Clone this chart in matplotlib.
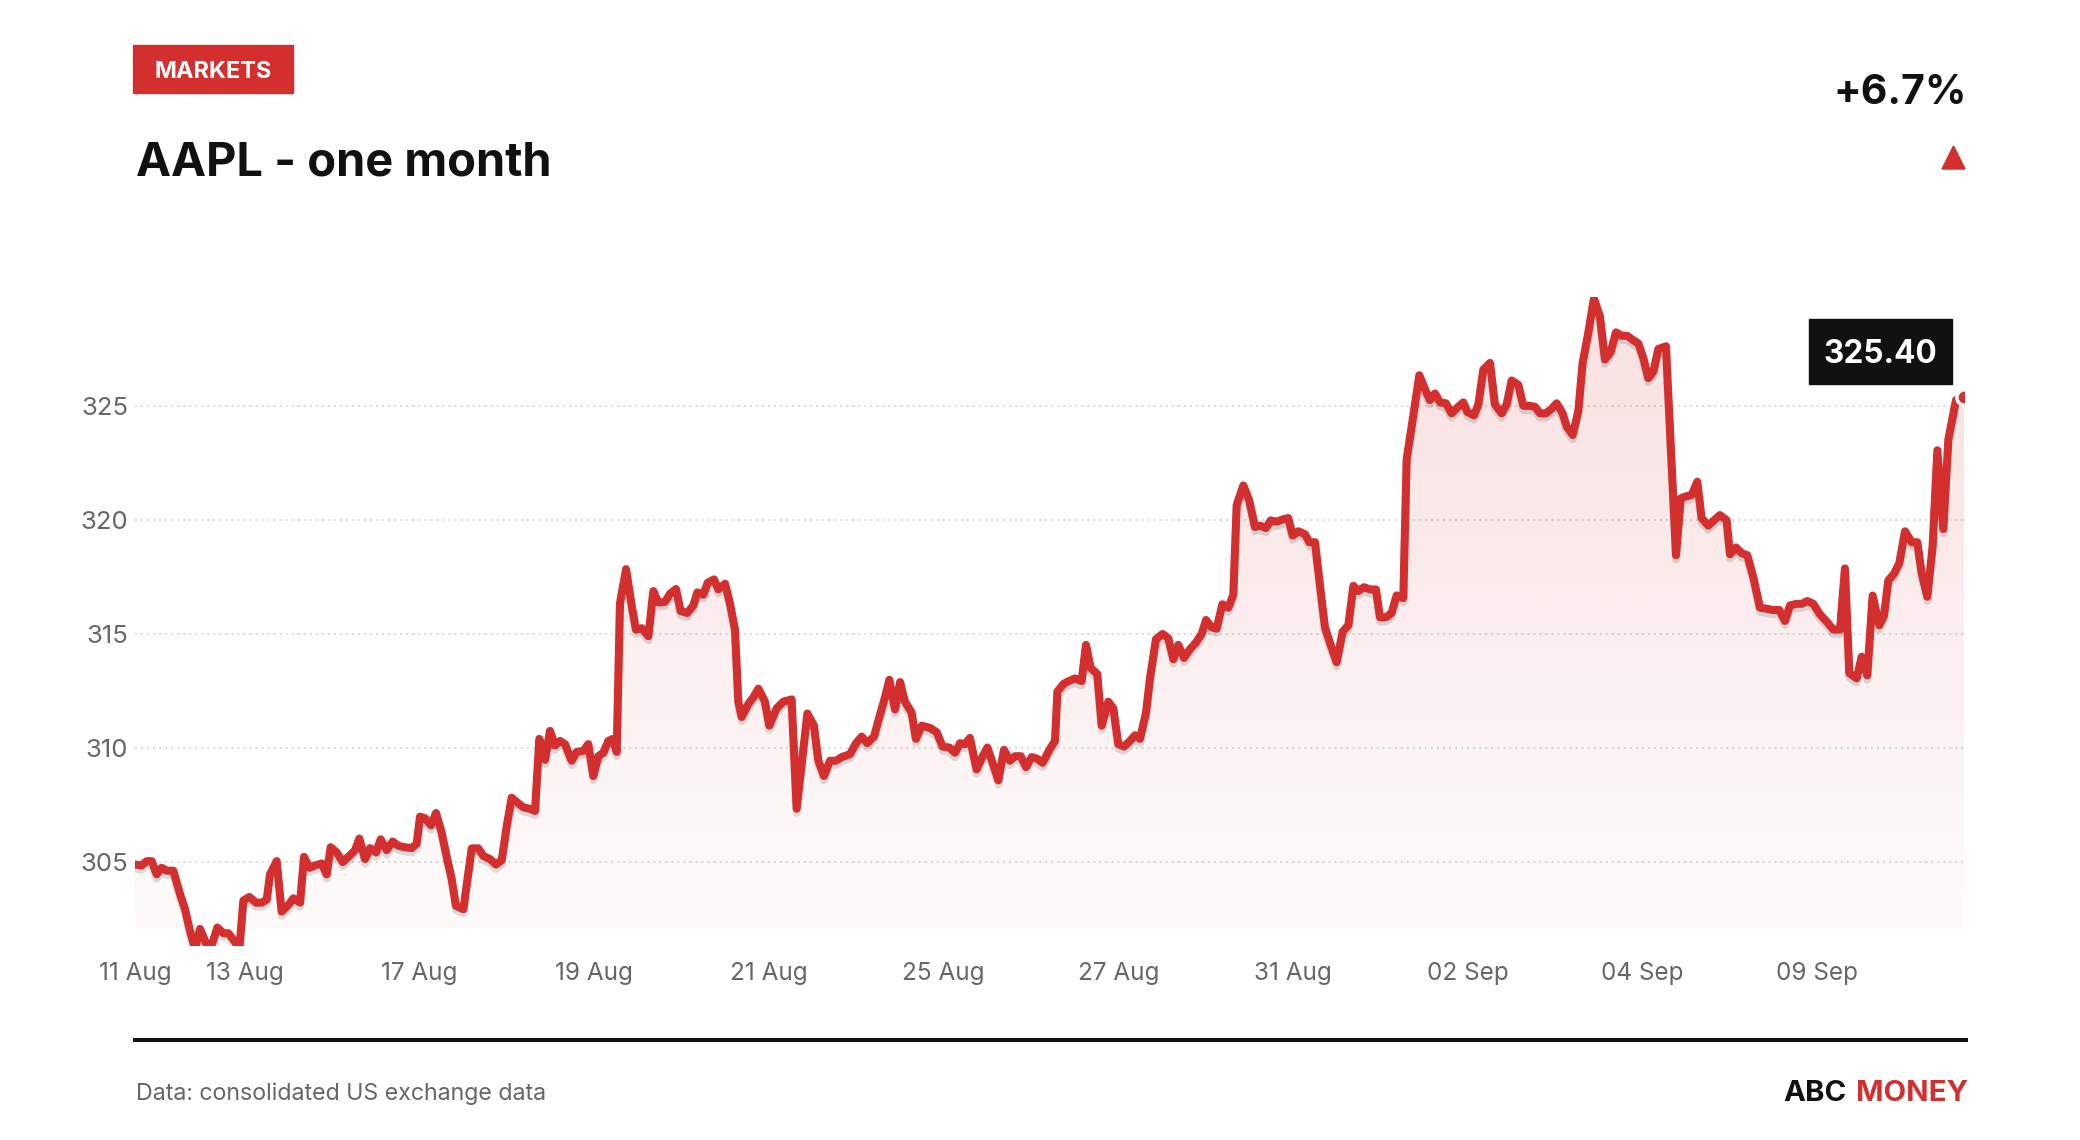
import numpy as np
import matplotlib
matplotlib.use('Agg')
import matplotlib.pyplot as plt
import matplotlib.patheffects as pe
from matplotlib.patches import Rectangle, Polygon
from matplotlib.lines import Line2D
from matplotlib.colors import to_rgb

plt.rcParams['font.family'] = ['Inter', 'DejaVu Sans']

RED = '#d32f2f'
GRAY = '#666666'

# intraday samples, x = trading-day position (13 Aug = 2, 17 Aug ~ 4, ...)
t_day = [
    0.749, 0.825, 0.882, 0.939, 0.996, 1.052, 1.109, 1.185, 1.261, 1.318,
    1.375, 1.432, 1.488, 1.557, 1.621, 1.686, 1.754, 1.811, 1.886, 1.936,
    1.981, 2.049, 2.125, 2.190, 2.247, 2.284, 2.360, 2.417, 2.493, 2.550,
    2.626, 2.671, 2.732, 2.796, 2.872, 2.929, 2.974, 3.043, 3.111, 3.187,
    3.251, 3.300, 3.365, 3.422, 3.490, 3.543, 3.611, 3.679, 3.744, 3.820,
    3.896, 3.952, 3.990, 4.047, 4.115, 4.172, 4.237, 4.294,
    4.350, 4.399, 4.483, 4.578, 4.653, 4.710, 4.786, 4.854, 4.919, 4.976,
    5.032, 5.108, 5.165, 5.233, 5.298, 5.347, 5.412, 5.468, 5.525, 5.582,
    5.639, 5.715, 5.772, 5.847, 5.904, 5.961, 6.018, 6.075, 6.132, 6.181,
    6.227, 6.264, 6.333, 6.397, 6.446, 6.511, 6.587, 6.643, 6.700, 6.776,
    6.833, 6.901, 6.954, 7.030, 7.098, 7.144, 7.212, 7.261, 7.333, 7.383,
    7.459, 7.515, 7.572, 7.610, 7.648, 7.724, 7.781, 7.838,
    7.913, 7.962, 8.046, 8.122, 8.216, 8.273, 8.395, 8.470, 8.520, 8.584,
    8.652, 8.721, 8.785, 8.880, 8.948, 9.013, 9.077, 9.153, 9.221, 9.278,
    9.327, 9.392, 9.449, 9.505, 9.581, 9.630, 9.695, 9.790, 9.866, 9.934,
    10.010, 10.074, 10.131, 10.188, 10.244, 10.320, 10.389, 10.442, 10.502, 10.567,
    10.631, 10.699, 10.756, 10.821, 10.882, 10.946, 11.003, 11.071, 11.147, 11.211,
    11.238, 11.306,
    11.344, 11.438, 11.514, 11.563, 11.617, 11.692, 11.742, 11.817, 11.874, 11.931,
    11.996, 12.064, 12.121, 12.178, 12.246, 12.291, 12.359, 12.435, 12.500, 12.557,
    12.613, 12.678, 12.746, 12.814, 12.879, 12.928, 12.992, 13.049, 13.114, 13.182,
    13.239, 13.277, 13.353, 13.421, 13.485, 13.542, 13.610, 13.664, 13.732, 13.800,
    13.864, 13.914, 13.978, 14.054, 14.103, 14.168, 14.225, 14.281, 14.346, 14.414,
    14.482, 14.547, 14.604, 14.660, 14.725, 14.793, 14.861,
    14.907, 14.975, 15.039, 15.096, 15.172, 15.210, 15.267, 15.354, 15.418, 15.475,
    15.532, 15.589, 15.657, 15.722, 15.786, 15.854, 15.900, 15.976, 16.025, 16.082,
    16.158, 16.214, 16.290, 16.347, 16.404, 16.480, 16.537, 16.605, 16.669, 16.726,
    16.794, 16.859, 16.916, 16.984, 17.029, 17.098, 17.162, 17.211, 17.276, 17.340,
    17.409, 17.465, 17.530, 17.590, 17.655, 17.719, 17.788, 17.844, 17.901, 17.958,
    18.015, 18.072, 18.159, 18.273, 18.326, 18.386,
    18.451, 18.515, 18.564, 18.640, 18.705, 18.773, 18.849, 18.887, 18.955, 19.019,
    19.084, 19.152, 19.228, 19.296, 19.372, 19.448, 19.512, 19.569, 19.645, 19.702,
    19.766, 19.834, 19.910, 19.986, 20.062, 20.138, 20.194, 20.244, 20.327, 20.384,
    20.448, 20.509, 20.585, 20.638, 20.687, 20.752, 20.812, 20.877, 20.953, 21.017,
    21.066, 21.131, 21.191, 21.245, 21.313, 21.370, 21.457, 21.548,
]

price = [
    304.89, 304.85, 305.04, 305.04, 304.46, 304.75, 304.62, 304.62, 303.60, 302.93,
    301.97, 301.20, 302.07, 301.44, 301.36, 302.13, 301.88, 301.88, 301.50, 301.20,
    303.31, 303.47, 303.22, 303.22, 303.35, 304.46, 305.04, 302.83, 303.12, 303.41,
    303.22, 305.23, 304.75, 304.85, 304.94, 304.46, 305.65, 305.42, 305.00, 305.27,
    305.52, 306.03, 305.13, 305.61, 305.42, 306.00, 305.52, 305.90, 305.71, 305.65,
    305.61, 305.80, 306.99, 306.92, 306.61, 307.15, 306.28, 305.23,
    304.27, 303.08, 302.93, 305.60, 305.60, 305.27, 305.13, 304.89, 305.08, 306.57,
    307.82, 307.57, 307.40, 307.34, 307.24, 310.40, 309.48, 310.75, 310.11, 310.31,
    310.17, 309.44, 309.83, 309.87, 310.17, 308.77, 309.64, 309.79, 310.31, 310.40,
    309.83, 316.34, 317.84, 316.25, 315.19, 315.25, 314.90, 316.88, 316.38, 316.40,
    316.76, 316.97, 316.00, 315.92, 316.25, 316.82, 316.72, 317.24, 317.39, 316.95,
    317.20, 316.34, 315.19, 312.03, 311.36, 311.93, 312.22, 312.60,
    312.03, 310.98, 311.74, 312.03, 312.13, 307.34, 311.51, 310.98, 309.44, 308.77,
    309.44, 309.44, 309.60, 309.73, 310.21, 310.50, 310.21, 310.50, 311.46, 312.22,
    312.99, 311.69, 312.89, 312.03, 311.55, 310.40, 310.98, 310.88, 310.69, 310.06,
    310.02, 309.79, 310.21, 310.17, 310.44, 309.06, 309.64, 310.02, 309.35, 308.58,
    309.92, 309.44, 309.64, 309.64, 309.16, 309.60, 309.54, 309.35, 309.92, 310.31,
    312.47, 312.80,
    312.89, 313.05, 312.93, 314.52, 313.51, 313.24, 310.98, 312.03, 311.74, 310.17,
    310.06, 310.31, 310.56, 310.40, 311.55, 313.05, 314.77, 315.00, 314.81, 313.89,
    314.52, 313.95, 314.33, 314.62, 315.00, 315.61, 315.29, 315.23, 316.30, 316.15,
    316.72, 320.65, 321.51, 320.84, 319.69, 319.75, 319.64, 319.98, 319.92, 320.02,
    320.08, 319.31, 319.50, 319.37, 319.02, 319.02, 317.11, 315.29, 314.52, 313.76,
    315.10, 315.38, 317.11, 316.88, 317.05, 316.95, 316.95,
    315.73, 315.73, 315.92, 316.69, 316.57, 322.66, 324.10, 326.34, 325.73, 325.25,
    325.54, 325.15, 325.11, 324.67, 324.92, 325.15, 324.73, 324.58, 325.06, 326.59,
    326.88, 325.06, 324.67, 325.06, 326.11, 325.92, 325.00, 325.00, 324.96, 324.67,
    324.67, 324.87, 325.11, 324.67, 324.10, 323.72, 324.77, 326.88, 328.22, 329.71,
    328.89, 327.03, 327.36, 328.22, 328.07, 328.07, 327.87, 327.74, 327.11, 326.21,
    326.50, 327.49, 327.61, 318.45, 320.94, 321.03,
    321.09, 321.67, 320.08, 319.75, 319.98, 320.21, 319.98, 318.49, 318.79, 318.54,
    318.45, 317.49, 316.15, 316.11, 316.05, 316.05, 315.57, 316.25, 316.32, 316.32,
    316.44, 316.32, 315.86, 315.54, 315.19, 315.19, 317.87, 313.28, 313.05, 314.00,
    313.18, 316.68, 315.38, 315.80, 317.34, 317.64, 318.10, 319.50, 319.02, 319.02,
    317.68, 316.63, 318.83, 323.05, 319.60, 323.53, 325.25, 325.40,
]

tick_days = [2.0, 3.986, 5.972, 7.958, 9.944, 11.93, 13.916, 15.902, 17.888, 19.874]
tick_labels = ['11 Aug', '13 Aug', '17 Aug', '19 Aug', '21 Aug', '25 Aug',
               '27 Aug', '31 Aug', '02 Sep', '04 Sep', '09 Sep']
y_ticks = [305, 310, 315, 320, 325]
y_min, y_max = 301.32, 329.77
fill_base = 302.1

W, H = 2080, 1140


def fx(x):
    return x / W


def fy(y):
    return 1 - y / H


def main():
    fig = plt.figure(figsize=(W / 100, H / 100), dpi=100)
    fig.patch.set_facecolor('white')
    ax = fig.add_axes([fx(135), fy(946), (1964 - 135) / W, (946 - 297) / H])

    # gradient fill under the line
    grad = np.zeros((256, 1, 4))
    grad[..., :3] = to_rgb(RED)
    grad[:, 0, 3] = np.linspace(0.15, 0.02, 256)
    im = ax.imshow(grad, extent=[t_day[0], t_day[-1], fill_base, y_max], aspect='auto',
                   origin='upper', interpolation='bilinear', zorder=1)
    poly = ax.fill_between(t_day, price, fill_base, facecolor='none', edgecolor='none')
    im.set_clip_path(poly.get_paths()[0], transform=ax.transData)

    ax.plot(t_day, price, color=RED, lw=5.8, solid_joinstyle='round', solid_capstyle='round', zorder=3,
            path_effects=[pe.SimpleLineShadow(offset=(0, -3), shadow_color='black', alpha=0.12), pe.Normal()])
    ax.plot(t_day[-1], price[-1], 'o', ms=11, mfc=RED, mec='white', mew=2.5, zorder=4)

    last = ax.annotate(f'{price[-1]:.2f}', xy=(t_day[-1], price[-1]), xytext=(-19.3, 19.3),
                       textcoords='offset points', ha='right', va='bottom', color='white',
                       fontsize=22.7, fontweight='bold', annotation_clip=False, zorder=6)

    ax.set_xlim(t_day[0], t_day[-1])
    ax.set_ylim(y_min, y_max)
    ax.set_xticks([t_day[0]] + tick_days)
    ax.set_xticklabels(tick_labels)
    ax.set_yticks(y_ticks)
    ax.tick_params(length=0, labelcolor=GRAY)
    ax.tick_params(axis='x', pad=11.5, labelsize=17.5)
    ax.tick_params(axis='y', pad=5, labelsize=18.5)
    ax.grid(axis='y', color='#d9d9d9', linestyle=(0, (1, 2.1)), linewidth=1.4)
    ax.set_axisbelow(True)
    for s in ax.spines.values():
        s.set_visible(False)

    # header
    fig.add_artist(Rectangle((fx(133), fy(93)), (293 - 133) / W, 48 / H,
                             transform=fig.transFigure, color=RED))
    fig.text(fx(213), fy(77.5), 'MARKETS', ha='center', va='baseline', color='white',
             fontsize=17, fontweight='bold')
    fig.text(fx(136), fy(176), 'AAPL - one month', ha='left', va='baseline', color='#111111',
             fontsize=33.8, fontweight='bold')
    change = (price[-1] / price[0] - 1) * 100
    fig.text(fx(1967), fy(104), f'{change:+.1f}%', ha='right', va='baseline', color='#111111',
             fontsize=29.5, fontweight='bold')
    fig.add_artist(Polygon([[fx(1942), fy(169)], [fx(1965), fy(169)], [fx(1953.5), fy(146)]],
                           closed=True, transform=fig.transFigure, color=RED))

    # footer
    fig.add_artist(Line2D([fx(133), fx(1968)], [fy(1040), fy(1040)], color='#111111', lw=2.9,
                          solid_capstyle='butt'))
    fig.text(fx(136), fy(1100), 'Data: consolidated US exchange data', ha='left', va='baseline',
             color=GRAY, fontsize=16.7)
    money = fig.text(fx(1968), fy(1101), 'MONEY', ha='right', va='baseline', color=RED,
                     fontsize=21.2, fontweight='bold')
    fig.canvas.draw()
    bb = money.get_window_extent()
    fig.text((bb.x0 - 9) / fig.bbox.width, fy(1101), 'ABC', ha='right', va='baseline',
             color='#111111', fontsize=21.2, fontweight='bold')

    # dark box behind the last value label
    tb = last.get_window_extent()
    fw, fh = fig.bbox.width, fig.bbox.height
    x0, x1 = tb.x0 - 14.5, tb.x1 + 14.5
    y0, y1 = tb.y0 - 14.5, tb.y1 + 20
    ax.add_artist(Rectangle((x0 / fw, y0 / fh), (x1 - x0) / fw, (y1 - y0) / fh,
                            transform=fig.transFigure, color='#111111', zorder=5, clip_on=False))

    fig.savefig('out.png', dpi=100)


if __name__ == '__main__':
    main()
